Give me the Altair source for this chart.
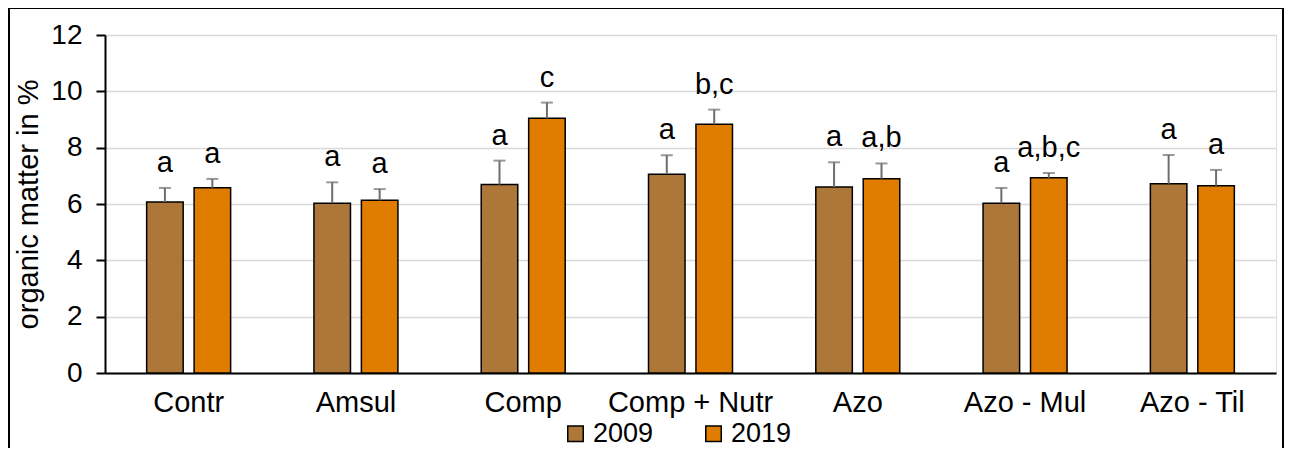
import altair as alt
import pandas as pd

categories = ["Contr", "Amsul", "Comp", "Comp + Nutr", "Azo", "Azo - Mul", "Azo - Til"]
years = ["2009", "2019"]
v2009 = [6.07, 6.03, 6.69, 7.06, 6.60, 6.03, 6.72]
e2009 = [0.50, 0.74, 0.85, 0.67, 0.88, 0.54, 1.02]
v2019 = [6.58, 6.13, 9.04, 8.83, 6.90, 6.93, 6.65]
e2019 = [0.31, 0.40, 0.56, 0.52, 0.54, 0.17, 0.56]
lab2009 = ["a", "a", "a", "a", "a", "a", "a"]
lab2019 = ["a", "a", "c", "b,c", "a,b", "a,b,c", "a"]

rows = []
for i, c in enumerate(categories):
    rows.append({"cat": c, "year": "2009", "value": v2009[i], "hi": v2009[i] + e2009[i], "label": lab2009[i]})
    rows.append({"cat": c, "year": "2019", "value": v2019[i], "hi": v2019[i] + e2019[i], "label": lab2019[i]})
df = pd.DataFrame(rows)

FONT = "Liberation Sans"

x = alt.X("cat:N", sort=categories, title=None,
          scale=alt.Scale(paddingInner=0.498, paddingOuter=0.249),
          axis=alt.Axis(labelAngle=0, labelFontSize=29, labelColor="black", labelPadding=15,
                        ticks=False, domainColor="black", domainWidth=2, labelFont=FONT))
xo = alt.XOffset("year:N", sort=years, scale=alt.Scale(paddingInner=0.23, paddingOuter=0))

base = alt.Chart(df).encode(x=x, xOffset=xo)

bars = base.mark_bar(stroke="black", strokeWidth=1.5).encode(
    y=alt.Y("value:Q", title="organic matter in %",
            scale=alt.Scale(domain=[0, 12], nice=False),
            axis=alt.Axis(values=[0, 2, 4, 6, 8, 10, 12], labelFontSize=28, labelColor="black",
                          labelPadding=14, tickColor="black", tickSize=9, tickWidth=2,
                          domainColor="black", domainWidth=2, gridColor="#d9d9d9", gridWidth=1.5,
                          titleFontSize=29, titleFontWeight="normal", titleColor="black",
                          titlePadding=7, labelFont=FONT, titleFont=FONT)),
    color=alt.Color("year:N", sort=years,
                    scale=alt.Scale(domain=years, range=["#AD7739", "#E07C00"]),
                    legend=alt.Legend(title=None, orient="none", direction="horizontal",
                                      legendX=457, legendY=385, symbolType="square",
                                      symbolSize=240, symbolStrokeColor="black",
                                      symbolStrokeWidth=1.5, labelFontSize=27, labelColor="black",
                                      labelFont=FONT, labelOffset=4, columnPadding=46, padding=0,
                                      symbolOpacity=1)),
)

err = base.mark_rule(color="#6e6e6e", strokeWidth=2).encode(y="value:Q", y2="hi:Q")
caps = base.mark_tick(color="#6e6e6e", thickness=2, size=12).encode(y="hi:Q")
txt = base.mark_text(baseline="alphabetic", dy=-16, fontSize=29, font=FONT, color="black").encode(
    y="hi:Q", text="label:N")

frame = alt.Chart(pd.DataFrame({"k": [0]})).mark_rect(
    fillOpacity=0, stroke="black", strokeWidth=2, clip=False
).encode(x=alt.value(-96), x2=alt.value(1178), y=alt.value(-27), y2=alt.value(480))

chart = alt.layer(bars, err, caps, txt, frame).properties(
    width=1171, height=338,
    autosize=alt.AutoSizeParams(type="none"),
    padding={"left": 97, "top": 27, "right": 8, "bottom": 75},
).configure_view(strokeWidth=0).configure(background="white")

chart.save("out.html", embed_options={"renderer": "svg", "actions": False})
